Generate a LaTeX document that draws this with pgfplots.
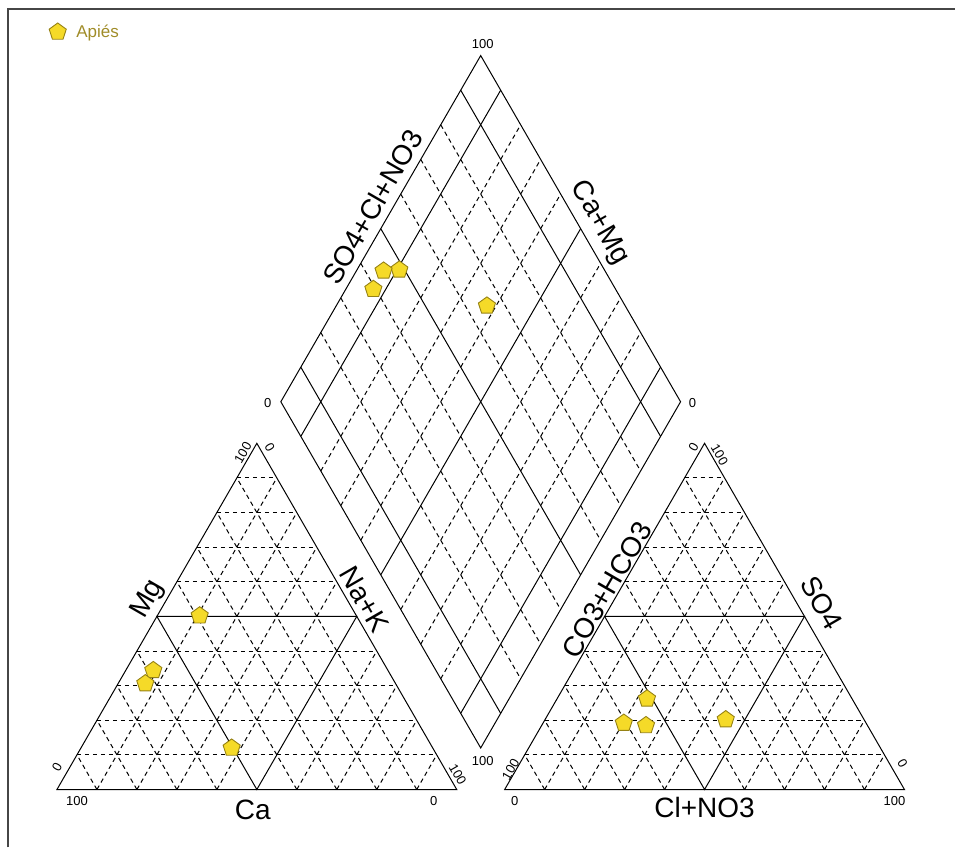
\documentclass[border=0pt]{standalone}
\usepackage{fontspec}
\setmainfont{Liberation Sans}
\usepackage{pgfplots}
\pgfplotsset{compat=1.18}
\usepackage{pgfplotstable}
\usetikzlibrary{plotmarks}

\definecolor{markfill}{RGB}{245,218,40}
\definecolor{markedge}{RGB}{150,130,20}
\definecolor{legtext}{RGB}{160,140,40}
\definecolor{framegray}{RGB}{70,70,70}

\tikzset{
  grd/.style={line width=1pt, dash pattern=on 4.5pt off 3.5pt},
  sld/.style={line width=1pt},
}

% Major ions, percent of meq/L
\pgfplotstableread{
Ca   Mg   NaK  HCO3 SO4  Cl
39.2 50.2 10.6 51.3 26.2 22.5
50.3 12.0 37.7 34.6 20.2 45.2
58.7 34.4  6.9 60.6 19.2 20.2
62.6 30.6  6.8 55.4 18.5 26.1
}\samples

\newcommand{\ticklab}{\fontsize{13}{15}\selectfont}
\newcommand{\titlelab}{\fontsize{28}{32}\selectfont}

\begin{document}
\begin{tikzpicture}
\begin{axis}[
  x=400pt, y=400pt,
  xmin=-0.1425, xmax=2.2475, ymin=-0.145, ymax=1.975,
  hide axis, clip=false,
  legend style={at={(axis cs:-0.0195,1.895)}, anchor=west, draw=none, fill=none,
    font=\fontsize{17}{20}\selectfont, inner sep=0pt, outer sep=0pt,
    /tikz/every odd column/.append style={column sep=8pt}},
  legend image code/.code={\draw[#1] plot coordinates {(8.5pt,0pt)};},
]
% page extent and frame
\path (rel axis cs:0,0) rectangle (rel axis cs:1,1);
\draw[framegray, line width=1.2pt] (axis cs:-0.1225,-0.145) -- (axis cs:-0.1225,1.9525) -- (axis cs:2.2475,1.9525);

% ---- cation and anion triangles ----
\pgfplotsinvokeforeach{1,2,3,4,6,7,8,9}{
  \draw[grd] (axis cs:{#1/20},{#1*0.0866025}) -- (axis cs:{1-#1/20},{#1*0.0866025});
  \draw[grd] (axis cs:{#1/10},0) -- (axis cs:{#1/10+(10-#1)/20},{(10-#1)*0.0866025});
  \draw[grd] (axis cs:{1-#1/10},0) -- (axis cs:{(10-#1)/20},{(10-#1)*0.0866025});
  \draw[grd] (axis cs:{1.12+#1/20},{#1*0.0866025}) -- (axis cs:{2.12-#1/20},{#1*0.0866025});
  \draw[grd] (axis cs:{1.12+#1/10},0) -- (axis cs:{1.12+#1/10+(10-#1)/20},{(10-#1)*0.0866025});
  \draw[grd] (axis cs:{2.12-#1/10},0) -- (axis cs:{1.12+(10-#1)/20},{(10-#1)*0.0866025});
}
\draw[sld] (axis cs:0.25,0.4330125) -- (axis cs:0.75,0.4330125) -- (axis cs:0.5,0) -- cycle;
\draw[sld] (axis cs:1.37,0.4330125) -- (axis cs:1.87,0.4330125) -- (axis cs:1.62,0) -- cycle;
\draw[sld] (axis cs:0,0) -- (axis cs:1,0) -- (axis cs:0.5,0.866025) -- cycle;
\draw[sld] (axis cs:1.12,0) -- (axis cs:2.12,0) -- (axis cs:1.62,0.866025) -- cycle;

% ---- diamond ----
\pgfplotsinvokeforeach{2,3,4,6,7,8}{
  \draw[grd] (axis cs:{0.56+#1/20},{0.96995+#1*0.0866025}) -- (axis cs:{1.06+#1/20},{0.10392+#1*0.0866025});
  \draw[grd] (axis cs:{0.56+#1/20},{0.96995-#1*0.0866025}) -- (axis cs:{1.06+#1/20},{1.83597-#1*0.0866025});
}
\pgfplotsinvokeforeach{1,5,9}{
  \draw[sld] (axis cs:{0.56+#1/20},{0.96995+#1*0.0866025}) -- (axis cs:{1.06+#1/20},{0.10392+#1*0.0866025});
  \draw[sld] (axis cs:{0.56+#1/20},{0.96995-#1*0.0866025}) -- (axis cs:{1.06+#1/20},{1.83597-#1*0.0866025});
}
\draw[sld] (axis cs:0.56,0.96995) -- (axis cs:1.06,0.10392) -- (axis cs:1.56,0.96995) -- (axis cs:1.06,1.83597) -- cycle;

% ---- scale labels ----
\node[font=\ticklab, rotate=60]  at (axis cs:0.465,0.8425) {100};
\node[font=\ticklab, rotate=-60] at (axis cs:0.5325,0.855) {0};
\node[font=\ticklab, rotate=60]  at (axis cs:0,0.055) {0};
\node[font=\ticklab, rotate=-60] at (axis cs:1.0025,0.0375) {100};
\node[font=\ticklab] at (axis cs:0.05,-0.03) {100};
\node[font=\ticklab] at (axis cs:0.9425,-0.03) {0};
\node[font=\ticklab, rotate=60]  at (axis cs:1.5925,0.8575) {0};
\node[font=\ticklab, rotate=-60] at (axis cs:1.6575,0.8375) {100};
\node[font=\ticklab, rotate=60]  at (axis cs:1.135,0.05) {100};
\node[font=\ticklab, rotate=-60] at (axis cs:2.115,0.065) {0};
\node[font=\ticklab] at (axis cs:1.145,-0.03) {0};
\node[font=\ticklab] at (axis cs:2.095,-0.03) {100};
\node[font=\ticklab] at (axis cs:1.065,1.865) {100};
\node[font=\ticklab] at (axis cs:0.5275,0.9675) {0};
\node[font=\ticklab] at (axis cs:1.59,0.9675) {0};
\node[font=\ticklab] at (axis cs:1.065,0.07) {100};

% ---- axis titles ----
\node[font=\titlelab] at (axis cs:0.49,-0.05) {Ca};
\node[font=\titlelab, rotate=60]  at (axis cs:0.2275,0.475) {Mg};
\node[font=\titlelab, rotate=-60] at (axis cs:0.77,0.475) {Na+K};
\node[font=\titlelab] at (axis cs:1.62,-0.045) {Cl+NO3};
\node[font=\titlelab, rotate=60]  at (axis cs:1.375,0.5) {CO3+HCO3};
\node[font=\titlelab, rotate=-60] at (axis cs:1.9125,0.4675) {SO4};
\node[font=\titlelab, rotate=60]  at (axis cs:0.79,1.4575) {SO4+Cl+NO3};
\node[font=\titlelab, rotate=-60] at (axis cs:1.3575,1.4175) {Ca+Mg};

% ---- samples ----
\addplot[only marks, mark=pentagon*, mark size=9pt,
  mark options={fill=markfill, draw=markedge, line width=0.9pt}]
  table[x expr={(\thisrow{NaK}+\thisrow{Mg}/2)/100}, y expr={0.866025*\thisrow{Mg}/100}]{\samples};
\addlegendentry{\textcolor{legtext}{Apiés}}
\addplot[forget plot, only marks, mark=pentagon*, mark size=9pt,
  mark options={fill=markfill, draw=markedge, line width=0.9pt}]
  table[x expr={1.12+(\thisrow{Cl}+\thisrow{SO4}/2)/100}, y expr={0.866025*\thisrow{SO4}/100}]{\samples};
\addplot[forget plot, only marks, mark=pentagon*, mark size=9pt,
  mark options={fill=markfill, draw=markedge, line width=0.9pt}]
  table[x expr={0.56+0.5*(\thisrow{SO4}+\thisrow{Cl}+\thisrow{NaK})/100},
        y expr={0.96995+0.866025*(\thisrow{SO4}+\thisrow{Cl}-\thisrow{NaK})/100}]{\samples};
\end{axis}
\end{tikzpicture}
\end{document}
